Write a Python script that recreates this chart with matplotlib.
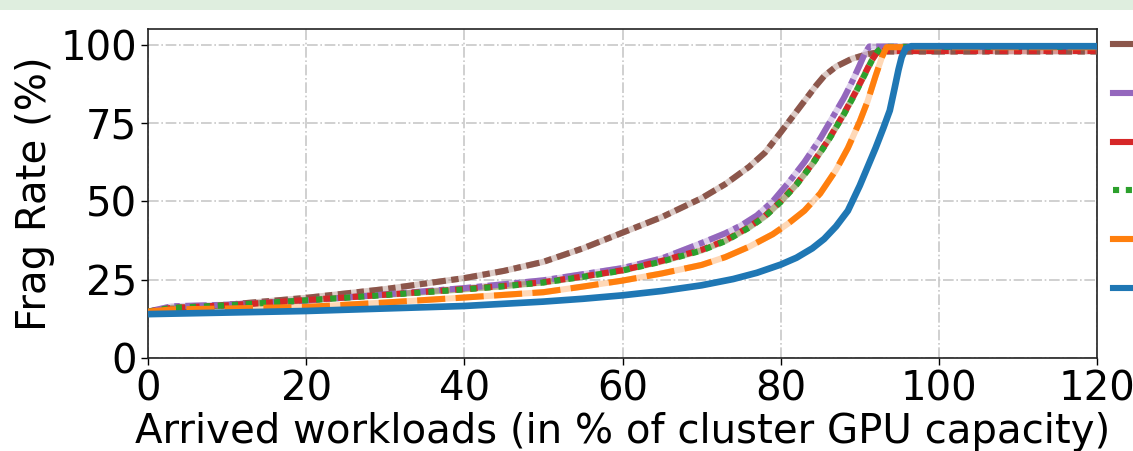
import matplotlib
matplotlib.use("Agg")
import matplotlib.pyplot as plt
from matplotlib.patches import Rectangle
from matplotlib.lines import Line2D

labels = ["Random", "DotProd", "Clustering", "Packing", "BestFit", "FGD"]
colors = ["#8c564b", "#9467bd", "#d62728", "#2ca02c", "#ff7f0e", "#1f77b4"]

brown_x = [0, 5, 10, 20, 30, 40, 45, 50, 55, 60, 65, 70, 73, 76, 78, 80, 81.5, 83, 84.5, 85.5, 87, 89, 91, 93, 120]
brown_y = [14.8, 16, 17, 19.2, 22, 25.5, 27.8, 30.7, 35, 40, 45, 51, 55.5, 61, 65.5, 72, 77, 82, 87, 90, 93, 95.5, 97, 97.8, 97.8]

purple_x = [0, 3, 10, 20, 30, 40, 50, 60, 65, 70, 73, 75, 77, 79, 81, 83, 85, 86.5, 88, 89, 90, 90.6, 91.2, 120]
purple_y = [14.8, 16.5, 17, 18.3, 20.3, 22.3, 24.8, 28.7, 31.8, 36.7, 39.8, 42.3, 45.5, 50, 56, 62.5, 70, 76.5, 83, 88, 93.5, 97, 99.4, 99.4]

red_x = [0, 3, 10, 20, 30, 40, 45, 50, 55, 60, 65, 70, 73, 76, 78, 80, 82, 84, 86, 88, 89.5, 90.5, 91.5, 92.3, 93, 120]
red_y = [14.8, 16, 16.8, 18.5, 20.2, 22, 23, 24.2, 26, 28, 31, 34.5, 37.5, 41.8, 45.3, 50, 55.5, 62, 69.5, 78, 85, 90, 95, 98, 98, 98]

green_x = [0, 3, 10, 20, 30, 40, 45, 50, 55, 60, 65, 70, 73, 76, 78, 80, 82, 84, 86, 88, 89.5, 90.5, 91.5, 92.3, 93, 120]
green_y = [14.8, 16, 16.8, 18.4, 20.1, 21.9, 22.9, 24.1, 25.9, 27.9, 30.8, 34.3, 37.3, 41.6, 45.1, 49.8, 55.3, 61.8, 69.3, 77.8, 84.8, 89.8, 94.8, 98, 99.3, 99.3]

orange_x = [0, 3, 10, 20, 30, 40, 50, 55, 60, 65, 70, 73, 76, 79, 81, 83, 85, 87, 88.5, 90, 91, 92, 92.8, 93.4, 120]
orange_y = [14.8, 15.5, 15.8, 16.3, 17.7, 19.3, 21, 22.8, 24.7, 27, 29.7, 32.2, 35.5, 39.5, 43, 47, 52.5, 60, 67, 75.5, 82, 90, 96, 99.2, 99.2]

blue_x = [0, 10, 20, 30, 40, 50, 55, 60, 65, 70, 74, 77, 80, 82, 84, 85.5, 87, 88.5, 90, 91, 92, 93, 93.8, 94.4, 94.9, 95.3, 95.8, 96.5, 120]
blue_y = [14, 14.5, 15, 15.8, 16.6, 18, 18.9, 20, 21.4, 23.2, 25.2, 27.2, 29.8, 32, 35, 38, 42, 47, 55, 61, 67, 73.5, 79, 86, 92, 96, 98.8, 99.5, 99.5]

xticks = [0, 20, 40, 60, 80, 100, 120]
yticks = [0, 25, 50, 75, 100]

series_x = [brown_x, purple_x, red_x, green_x, orange_x, blue_x]
series_y = [brown_y, purple_y, red_y, green_y, orange_y, blue_y]
dash_styles = [(2.2, 0.9, 1.2, 0.9), (3.5, 0.9, 0.9, 0.9), (1.3, 1.1), (1.0, 1.3), (4.6, 1.7), None]

FS = 29
LW = 4.4

fig = plt.figure(figsize=(11.33, 4.51), dpi=100)
fig.patches.append(Rectangle((0, 1 - 10 / 451), 1, 10 / 451, transform=fig.transFigure,
                             facecolor="#dfeedf", edgecolor="none", zorder=0))
ax = fig.add_axes([148 / 1133, 93 / 451, 949 / 1133, 329 / 451])

for xs, ys, c, d in zip(series_x, series_y, colors, dash_styles):
    if d is None:
        ax.plot(xs, ys, color=c, lw=LW + 0.4, solid_capstyle="butt", zorder=3)
    else:
        ax.plot(xs, ys, color=c, lw=LW, alpha=0.3, solid_capstyle="butt", zorder=2)
        ax.plot(xs, ys, color=c, lw=LW, dashes=d, zorder=3)

ax.set_xlim(0, 120)
ax.set_ylim(0, 105)
ax.set_xticks(xticks)
ax.set_yticks(yticks)
ax.tick_params(labelsize=FS, length=5, width=1.0, pad=3)
ax.grid(True, color="#c8c8c8", linestyle="-.", linewidth=1.2)
ax.set_axisbelow(True)
for s in ax.spines.values():
    s.set_linewidth(1.2)
    s.set_color("#222222")
ax.set_xlabel("Arrived workloads (in % of cluster GPU capacity)", fontsize=FS, labelpad=2)
ax.set_ylabel("Frag Rate (%)", fontsize=FS, labelpad=4)

legend_styles = ["-", "-", "-", (0, (1.0, 1.1)), "-", "-"]
handles = [Line2D([], [], color=c, lw=LW, linestyle=ls) for c, ls in zip(colors, legend_styles)]
fig.legend(handles=handles, labels=labels, loc="upper left",
           bbox_to_anchor=(1113 / 1133, 1 - 27 / 451), frameon=False,
           fontsize=FS, borderpad=0, borderaxespad=0, handlelength=2,
           handletextpad=0.5, labelspacing=0.22)

fig.savefig("out.png", dpi=100)
